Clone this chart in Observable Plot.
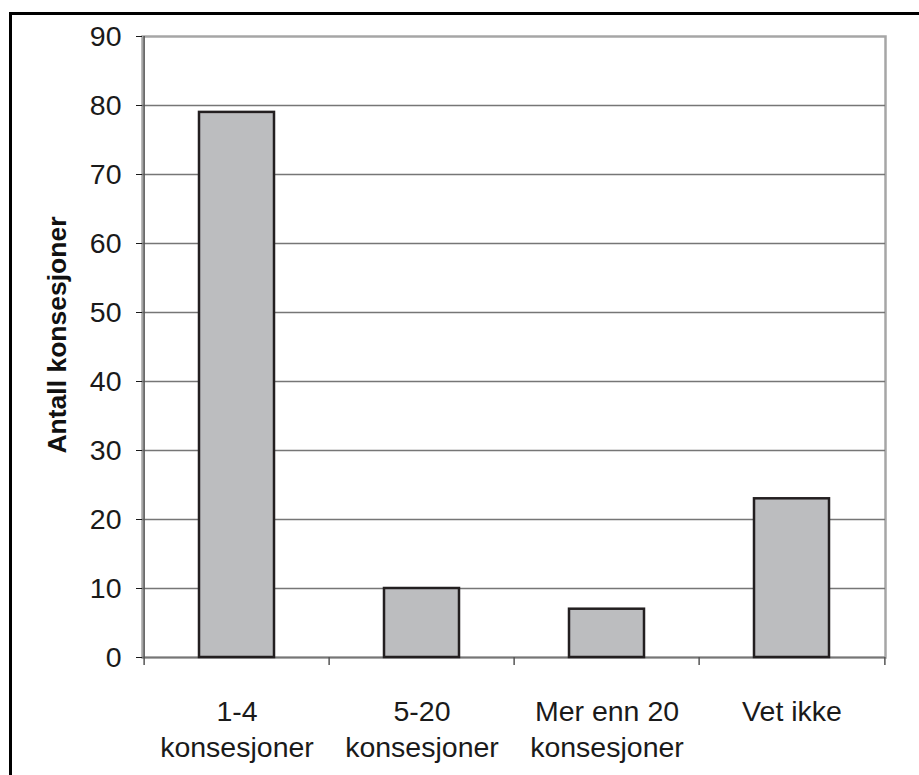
<!DOCTYPE html>
<html>
<head>
<meta charset="utf-8">
<script src="https://cdn.jsdelivr.net/npm/d3@7"></script>
<script src="https://cdn.jsdelivr.net/npm/@observablehq/plot@0.6"></script>
<style>
  html, body { margin: 0; padding: 0; background: #fff; overflow: hidden; width: 919px; height: 775px; }
  #wrap { position: relative; width: 919px; height: 775px; }
  #border { position: absolute; left: 9px; top: 12px; width: 1000px; height: 1000px; border: 3.5px solid #000; pointer-events: none; }
  svg { position: absolute; left: 0; top: 0; }
</style>
</head>
<body>
<div id="wrap"><div id="border"></div></div>
<script>
const categories = ["1-4\nkonsesjoner", "5-20\nkonsesjoner", "Mer enn 20\nkonsesjoner", "Vet ikke"];
const values = [79, 10, 7, 23];
const yTicks = [0, 10, 20, 30, 40, 50, 60, 70, 80, 90];
const yLabel = "Antall konsesjoner";

const data = categories.map((c, i) => ({category: c, value: values[i]}));
const half = (919 - 142 - 34) / categories.length / 2;

const chart = Plot.plot({
  width: 919,
  height: 775,
  marginLeft: 142,
  marginRight: 34,
  marginTop: 36,
  marginBottom: 118,
  style: {fontFamily: "'Liberation Sans', Arial, sans-serif", background: "transparent", overflow: "visible"},
  x: {domain: categories, padding: 0, axis: null, label: null},
  y: {domain: [0, 90], label: null},
  marks: [
    Plot.frame({stroke: "#a6a6a6", strokeWidth: 2.5}),
    Plot.ruleY(yTicks.filter(t => t < 90), {stroke: "#767676", strokeWidth: 1.5}),
    Plot.barY(data, {x: "category", y: "value", fill: "#bcbdbf", stroke: "#231f20", strokeWidth: 2.5, insetLeft: 55, insetRight: 55}),
    Plot.ruleX([categories[0]], {dx: -half, stroke: "#555", strokeWidth: 1.5}),
    Plot.ruleX(categories, {y1: 0, y2: 0, insetBottom: -8, dx: -half, stroke: "#555", strokeWidth: 1.5}),
    Plot.ruleX([categories[categories.length - 1]], {y1: 0, y2: 0, insetBottom: -8, dx: half, stroke: "#555", strokeWidth: 1.5}),
    Plot.axisY({ticks: yTicks, tickSize: 6, tickPadding: 15, fontSize: 28.5, color: "#1a1a1a", label: null}),
    Plot.text(categories, {x: d => d, text: d => d, frameAnchor: "bottom", lineAnchor: "top", dy: 38, fontSize: 28.5, lineHeight: 1.27, fill: "#1a1a1a"}),
    Plot.text([yLabel], {frameAnchor: "left", textAnchor: "middle", rotate: -90, dx: -85, dy: -12, fontWeight: "bold", fontSize: 26.5, fill: "#111"})
  ]
});
document.getElementById("wrap").prepend(chart);
</script>
</body>
</html>
